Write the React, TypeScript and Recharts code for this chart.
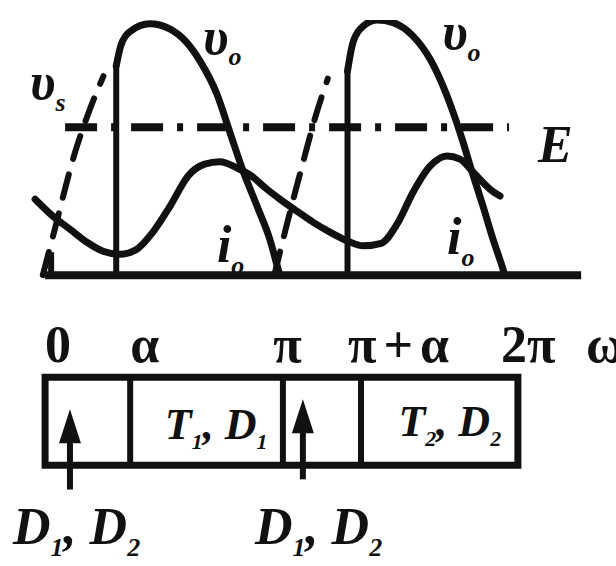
import React from "react";
import {
    ComposedChart,
    Line,
    XAxis,
    YAxis,
    ReferenceLine,
    ReferenceArea,
    ReferenceDot
} from "recharts";

// angle in units of pi, values relative to the peak of v_s
const vsRise1T = [-0.016, 0.028, 0.123, 0.187, 0.245];
const vsRise1V = [0, 0.153, 0.482, 0.651, 0.78];
const vsRise2T = [0.98, 1.04, 1.1, 1.16, 1.21];
const vsRise2V = [0, 0.22, 0.43, 0.63, 0.77];

const vo1T = [0.3, 0.32, 0.36, 0.445, 0.53, 0.6, 0.66, 0.733, 0.789, 0.845, 0.906, 0.961, 0.996, 1.004];
const vo1V = [0.82, 0.9, 0.955, 0.985, 0.965, 0.915, 0.84, 0.71, 0.56, 0.41, 0.27, 0.14, 0.025, 0];
const vo2T = [1.295, 1.315, 1.35, 1.422, 1.491, 1.577, 1.65, 1.706, 1.749, 1.788, 1.831, 1.878, 1.921, 1.96, 1.972];
const vo2V = [0.8, 0.9, 0.965, 1.0, 0.99, 0.937, 0.847, 0.741, 0.639, 0.533, 0.404, 0.27, 0.141, 0.035, 0];

const ioT = [-0.049, 0.028, 0.101, 0.174, 0.243, 0.316, 0.389, 0.458, 0.532, 0.61, 0.68, 0.746, 0.82, 0.88, 0.94, 1.004, 1.077, 1.146, 1.219, 1.293, 1.362, 1.44, 1.508, 1.577, 1.65, 1.723, 1.779, 1.835, 1.908, 1.951];
const ioV = [0.298, 0.231, 0.18, 0.129, 0.094, 0.082, 0.102, 0.169, 0.271, 0.39, 0.435, 0.445, 0.42, 0.39, 0.343, 0.298, 0.251, 0.208, 0.169, 0.135, 0.115, 0.125, 0.2, 0.325, 0.427, 0.467, 0.455, 0.404, 0.337, 0.31];

const firingT = [0.3, 1.295];
const firingV = [0.82, 0.8];

const eLevel = 0.58;
const eSpan = [0.08, 1.99];
const baseSpan = [-0.006, 2.3];

const tickText = ["0", "α", "π", "π+α", "2π", "ω"];
const tickT = [-0.006, 0.36, 0.975, 1.297, 1.955, 2.321];
const tickRowV = -0.341;

const boxEdges = [-0.006, 0.36, 1.017, 1.353, 2.028];
const boxTop = -0.4;
const boxBottom = -0.745;

const arrowT = [0.101, 1.103];
const arrowHeadV = [-0.525, -0.486];
const arrowTailV = [-0.84, -0.8];

type Part = [string, boolean];

const curveLabels: { t: number; v: number; parts: Part[] }[] = [
    { t: -0.071, v: 0.69, parts: [["υ", false], ["s", true]] },
    { t: 0.673, v: 0.867, parts: [["υ", false], ["o", true]] },
    { t: 1.702, v: 0.886, parts: [["υ", false], ["o", true]] },
    { t: 0.733, v: 0.051, parts: [["i", false], ["o", true]] },
    { t: 1.723, v: 0.082, parts: [["i", false], ["o", true]] },
    { t: 2.114, v: 0.443, parts: [["E", false]] }
];

const cellLabels: { t: number; v: number; parts: Part[] }[] = [
    { t: 0.73, v: -0.643, parts: [["T", false], ["1", true], [", D", false], ["1", true]] },
    { t: 1.735, v: -0.63, parts: [["T", false], ["2", true], [", D", false], ["2", true]] }
];

const deviceLabels: { t: number; v: number; parts: Part[] }[] = [
    { t: -0.144, v: -1.055, parts: [["D", false], ["1", true], [", D", false], ["2", true]] },
    { t: 0.897, v: -1.055, parts: [["D", false], ["1", true], [", D", false], ["2", true]] }
];

const rows = (t: number[], v: number[]) => t.map((x, i) => ({ t: x, v: v[i] }));

const INK = "#111";
const FONT = "'Liberation Serif', 'DejaVu Serif', serif";

function Tag({ cx, cy, parts, size, anchor = "start", italic = true, spacing = 0 }: any) {
    const sub = Math.round(size * 0.5);
    let low = false;
    return (
        <text x={cx} y={cy} textAnchor={anchor} fontFamily={FONT} fontWeight="bold"
            fontStyle={italic ? "italic" : "normal"} fontSize={size} fill={INK}
            letterSpacing={spacing}>
            {parts.map(([s, isSub]: Part, i: number) => {
                const dy = isSub && !low ? size * 0.22 : !isSub && low ? -size * 0.22 : 0;
                low = isSub;
                return (
                    <tspan key={i} dy={dy} fontSize={isSub ? sub : size}>{s}</tspan>
                );
            })}
        </text>
    );
}

const curveStyle = {
    stroke: INK,
    strokeWidth: 7,
    strokeLinejoin: "round" as const,
    strokeLinecap: "round" as const,
    dot: false,
    activeDot: false,
    isAnimationActive: false
};

export default function App() {
    return (
        <div style={{ position: "absolute", left: 0, top: 0, background: "#fff" }}>
            <ComposedChart width={616} height={566} margin={{ top: 20, right: 0, bottom: 5, left: 0 }}>
                <XAxis type="number" dataKey="t" domain={[-0.2, 2.45]} allowDataOverflow hide />
                <YAxis type="number" dataKey="v" domain={[-1.12, 1]} allowDataOverflow hide />

                <ReferenceLine segment={[{ x: baseSpan[0], y: 0 }, { x: baseSpan[1], y: 0 }]}
                    stroke={INK} strokeWidth={8} />
                <ReferenceLine segment={[{ x: 0.02, y: 0 }, { x: 0.02, y: 0.09 }]}
                    stroke={INK} strokeWidth={6} />
                <ReferenceLine segment={[{ x: eSpan[0], y: eLevel }, { x: eSpan[1], y: eLevel }]}
                    stroke={INK} strokeWidth={8} strokeDasharray="32 14 6 14" />

                {firingT.map((t, i) => (
                    <ReferenceLine key={`f${i}`} segment={[{ x: t, y: 0 }, { x: t, y: firingV[i] }]}
                        stroke={INK} strokeWidth={6} />
                ))}

                <Line data={rows(vsRise1T, vsRise1V)} dataKey="v" type="monotone" {...curveStyle}
                    strokeWidth={6} strokeDasharray="24 16" />
                <Line data={rows(vsRise2T, vsRise2V)} dataKey="v" type="monotone" {...curveStyle}
                    strokeWidth={6} strokeDasharray="24 16" />
                <Line data={rows(vo1T, vo1V)} dataKey="v" type="monotone" {...curveStyle} />
                <Line data={rows(vo2T, vo2V)} dataKey="v" type="monotone" {...curveStyle} />
                <Line data={rows(ioT, ioV)} dataKey="v" type="monotone" {...curveStyle} />

                {curveLabels.map((l, i) => (
                    <ReferenceDot key={`c${i}`} x={l.t} y={l.v} r={0}
                        shape={(p: any) => <Tag cx={p.cx} cy={p.cy} parts={l.parts} size={52} />} />
                ))}

                {tickText.map((s, i) => (
                    <ReferenceDot key={`t${i}`} x={tickT[i]} y={tickRowV} r={0}
                        shape={(p: any) => (
                            <Tag cx={p.cx} cy={p.cy} parts={[[s, false]]} size={52} italic={false}
                                spacing={s.length > 2 ? 7 : 0} />
                        )} />
                ))}

                <ReferenceArea x1={boxEdges[0]} x2={boxEdges[boxEdges.length - 1]} y1={boxBottom} y2={boxTop}
                    fill="none" fillOpacity={0} stroke={INK} strokeWidth={7} />
                {boxEdges.slice(1, -1).map((t, i) => (
                    <ReferenceLine key={`b${i}`} segment={[{ x: t, y: boxTop }, { x: t, y: boxBottom }]}
                        stroke={INK} strokeWidth={6} />
                ))}

                {arrowT.map((t, i) => (
                    <ReferenceLine key={`a${i}`} segment={[{ x: t, y: arrowHeadV[i] - 0.08 }, { x: t, y: arrowTailV[i] }]}
                        stroke={INK} strokeWidth={6} />
                ))}
                {arrowT.map((t, i) => (
                    <ReferenceDot key={`h${i}`} x={t} y={arrowHeadV[i]} r={0}
                        shape={(p: any) => <path d={`M${p.cx},${p.cy} l11,34 l-22,0 z`} fill={INK} />} />
                ))}

                {cellLabels.map((l, i) => (
                    <ReferenceDot key={`l${i}`} x={l.t} y={l.v} r={0}
                        shape={(p: any) => <Tag cx={p.cx} cy={p.cy} parts={l.parts} size={44} anchor="middle" />} />
                ))}
                {deviceLabels.map((l, i) => (
                    <ReferenceDot key={`d${i}`} x={l.t} y={l.v} r={0}
                        shape={(p: any) => <Tag cx={p.cx} cy={p.cy} parts={l.parts} size={52} />} />
                ))}
            </ComposedChart>
        </div>
    );
}
